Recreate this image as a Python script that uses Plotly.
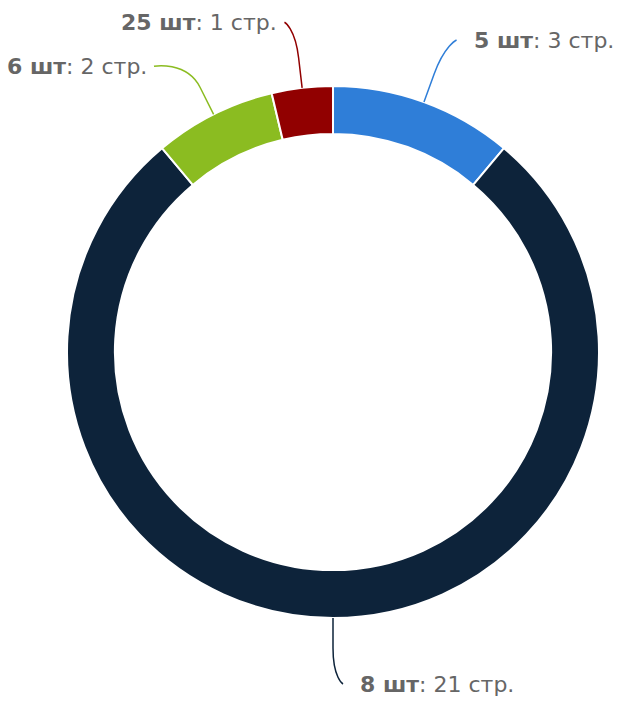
import math
import plotly.graph_objects as go

quantities = ["5 шт", "8 шт", "6 шт", "25 шт"]
pages = [3, 21, 2, 1]
colors = ["#2f7ed8", "#0d233a", "#8bbc21", "#910000"]

W, H = 619, 702
cx, cy, R = 333, 352, 266
hole = 0.82
label_dist = 66
mid_dist = 30
min_gap = 44

fig = go.Figure(go.Pie(
    labels=quantities, values=pages, sort=False, direction="clockwise", rotation=0,
    hole=hole, marker=dict(colors=colors, line=dict(color="white", width=2)),
    textinfo="none", hoverinfo="label+value", showlegend=False,
    domain=dict(x=[(cx - R) / W, (cx + R) / W], y=[(H - cy - R) / H, (H - cy + R) / H]),
))

def px(x, y):
    return x / W, 1 - y / H

total = sum(pages)
labels = []
acc = 0
for q, v, c in zip(quantities, pages, colors):
    a = math.radians((acc + v / 2) / total * 360)
    acc += v
    side = 1 if math.sin(a) >= -1e-9 else -1
    labels.append(dict(q=q, v=v, c=c, a=a, side=side,
                       y=cy - (R + label_dist) * math.cos(a)))

# simple collision avoidance per side (top-down)
for s in (1, -1):
    grp = sorted([l for l in labels if l["side"] == s], key=lambda l: l["y"])
    for i in range(1, len(grp)):
        if grp[i]["y"] - grp[i - 1]["y"] < min_gap:
            grp[i]["y"] = grp[i - 1]["y"] + min_gap

RL = R + label_dist
for l in labels:
    a, s = l["a"], l["side"]
    dy = l["y"] - cy
    x = cx + s * math.sqrt(max(RL ** 2 - dy ** 2, 0)) + s * 10
    ex, ey = x, l["y"]
    p0 = (cx + R * math.sin(a), cy - R * math.cos(a))
    m = (cx + (R + mid_dist) * math.sin(a), cy - (R + mid_dist) * math.cos(a))
    c2 = (2 * m[0] - p0[0], 2 * m[1] - p0[1])
    pts = [px(ex, ey), px(ex, ey), px(*c2), px(*m), px(*p0)]
    path = "M {0[0]},{0[1]} C {1[0]},{1[1]} {2[0]},{2[1]} {3[0]},{3[1]} L {4[0]},{4[1]}".format(*pts)
    fig.add_shape(type="path", path=path, xref="paper", yref="paper",
                  line=dict(color=l["c"], width=1.5))
    gap = 15 if s > 0 else 5
    tx, ty = px(ex + s * gap, ey)
    fig.add_annotation(x=tx, y=ty, xref="paper", yref="paper", showarrow=False,
                       xanchor="left" if s > 0 else "right", yanchor="middle",
                       text=f"<b>{l['q']}</b>: {l['v']} стр.",
                       font=dict(family="DejaVu Sans", size=22, color="#666666"))

fig.update_layout(width=W, height=H, margin=dict(l=0, r=0, t=0, b=0),
                  paper_bgcolor="white", plot_bgcolor="white")
fig.write_html("out.html", config={"displayModeBar": False},
               post_script="document.body.style.margin='0';")
